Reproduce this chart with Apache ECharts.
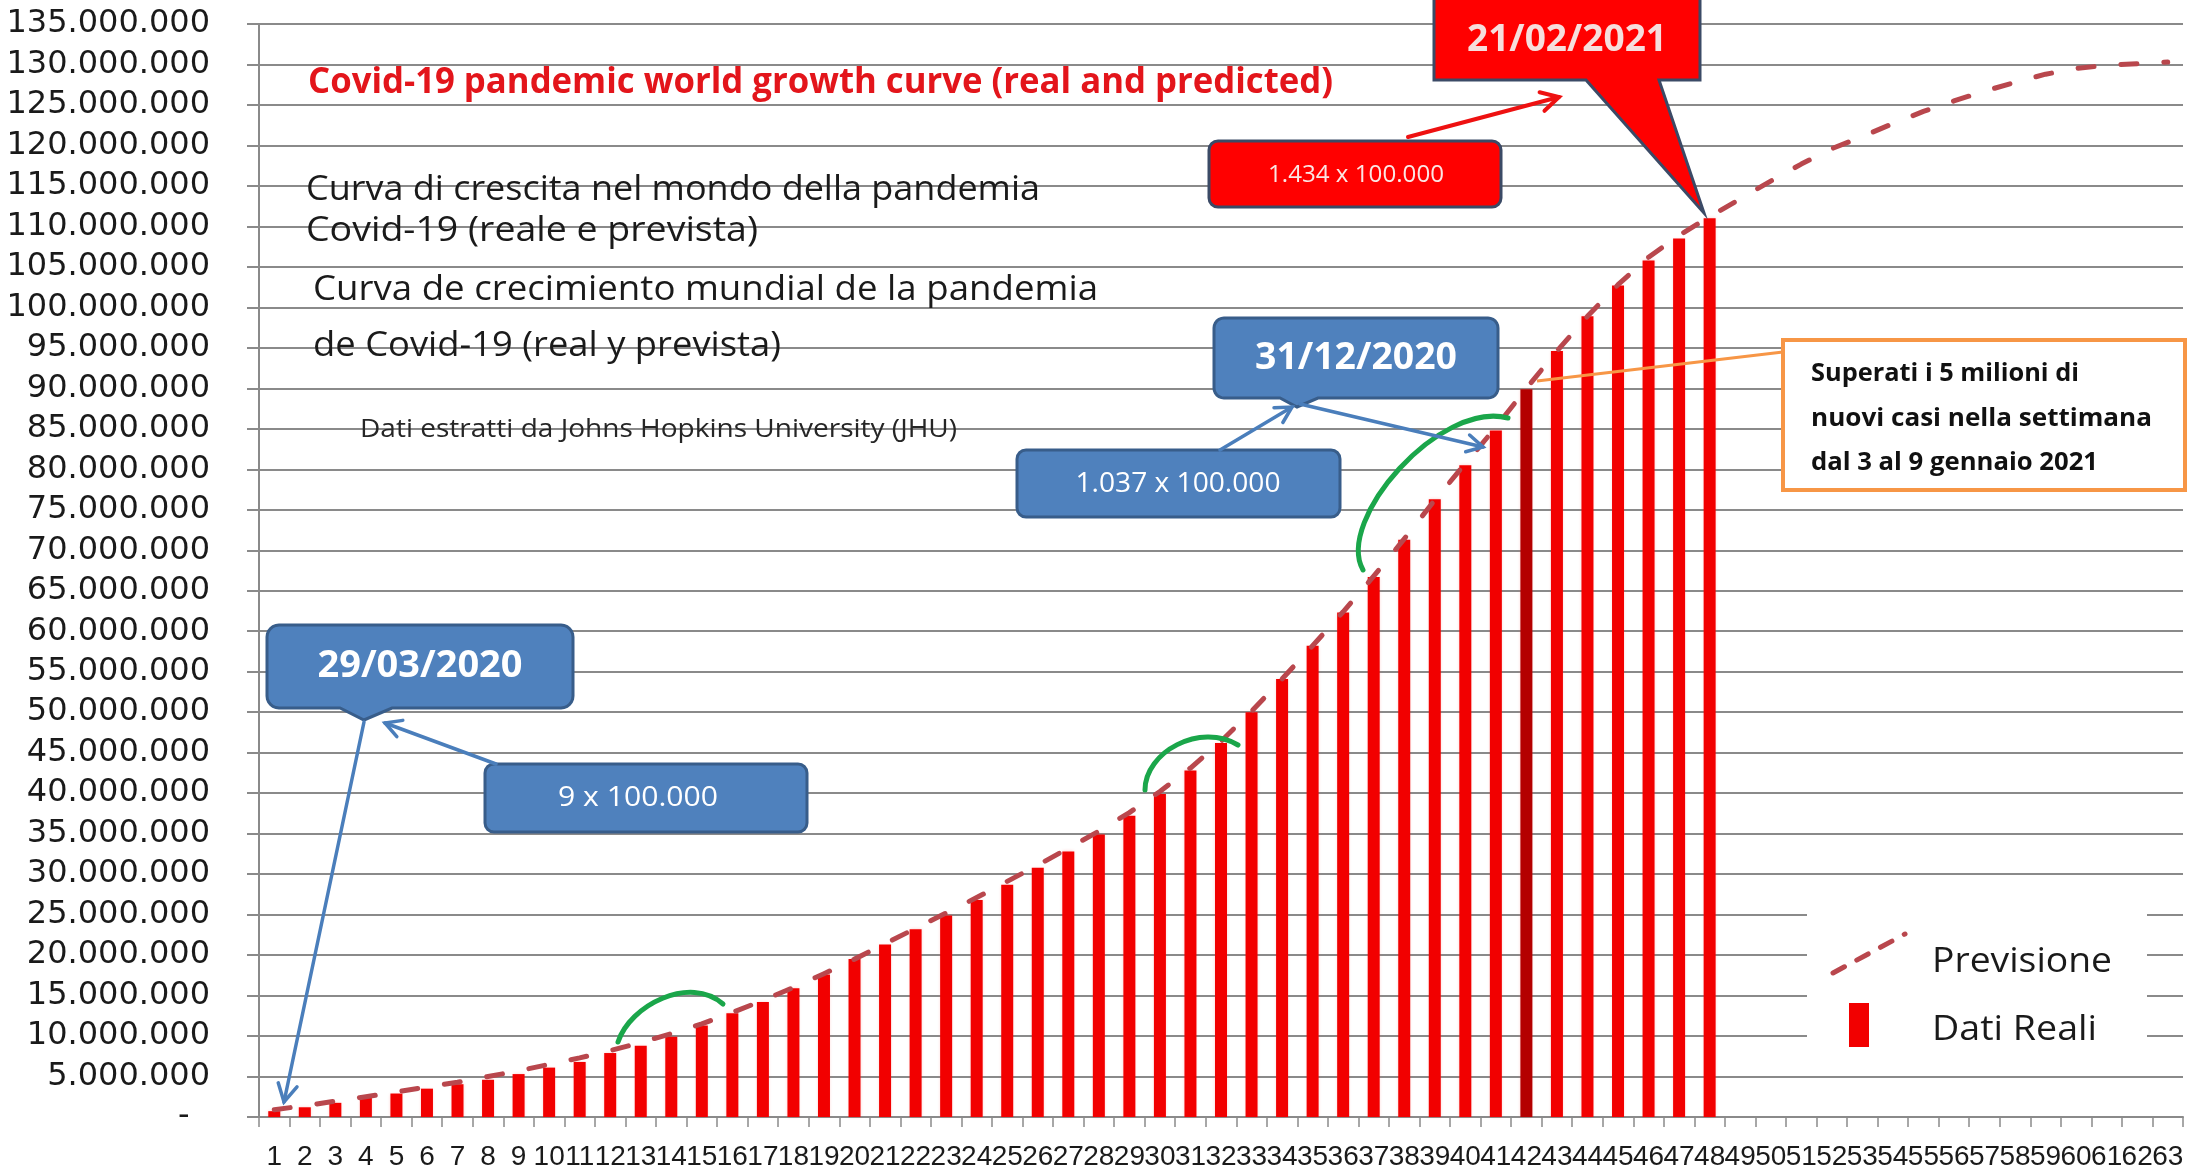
<!DOCTYPE html>
<html>
<head>
<meta charset="utf-8">
<script src="https://cdn.jsdelivr.net/npm/echarts@6/dist/echarts.min.js"></script>
<style>
  html, body { margin: 0; padding: 0; background: #ffffff; }
  #chart { width: 2190px; height: 1172px; }
</style>
</head>
<body>
<div id="chart"></div>
<script>
// Week numbers (week 1 = 29/03/2020, week 48 = 21/02/2021)
const weeks = ['1','2','3','4','5','6','7','8','9','10','11','12','13','14','15','16','17','18','19','20',
  '21','22','23','24','25','26','27','28','29','30','31','32','33','34','35','36','37','38','39','40',
  '41','42','43','44','45','46','47','48','49','50','51','52','53','54','55','56','57','58','59','60',
  '61','62','63'];

// Cumulative confirmed cases, millions (Dati Reali)
const realCases = [0.72, 1.2, 1.75, 2.4, 2.9, 3.5, 4.05, 4.6, 5.3, 6.1,
  6.8, 7.9, 8.8, 9.9, 11.3, 12.8, 14.2, 15.9, 17.6, 19.5,
  21.3, 23.2, 24.9, 26.8, 28.7, 30.8, 32.8, 34.9, 37.2, 39.9,
  42.8, 46.2, 50.0, 54.1, 58.2, 62.3, 66.7, 71.3, 76.3, 80.5,
  84.8, 89.9, 94.6, 98.9, 102.7, 105.8, 108.5, 111.0];

// Growth curve, millions (Previsione)
const forecast = [0.9, 1.4, 1.95, 2.5, 3.1, 3.7, 4.3, 5.0, 5.7, 6.5,
  7.3, 8.2, 9.2, 10.3, 11.5, 12.9, 14.4, 16.0, 17.7, 19.5,
  21.4, 23.3, 25.2, 27.1, 29.1, 31.1, 33.2, 35.3, 37.6, 40.2,
  43.1, 46.4, 50.1, 54.1, 58.2, 62.4, 66.8, 71.4, 76.2, 80.7,
  85.2, 90.0, 94.6, 98.9, 102.8, 106.2, 108.9, 111.2, 113.4, 115.6,
  117.7, 119.6, 121.1, 122.7, 124.2, 125.5, 126.7, 127.8, 128.8, 129.5,
  129.9, 130.1, 130.3];

// Value axis: 0 .. 135.000.000 every 5.000.000
const yMin = 0;
const yMax = 135000000;
const yStep = 5000000;

const MILLION = 1000000;
const highlightWeek = '42';

const GRID_GRAY = '#8a8a8a';
const BAR_RED = '#f20000';
const BAR_DARK = '#b40000';
const CURVE = '#b9474d';
const BLUE = '#4f81bd';
const BLUE_EDGE = '#385d8a';
const ARROW_BLUE = '#4a7ebb';
const HUMANIST = '"Open Sans", "Noto Sans", sans-serif';

function dotted(v) {
  if (v === 0) return '-  ';
  return String(v).replace(/\B(?=(\d{3})+(?!\d))/g, '.');
}

const measureCtx = document.createElement('canvas').getContext('2d');
function fitText(str, x, y, font, width, color, align) {
  measureCtx.font = font;
  const w = measureCtx.measureText(str).width;
  const sx = width ? width / w : 1;
  return {
    type: 'text', x: x, y: y, scaleX: sx, z: 20,
    style: {
      text: str, font: font, fill: color,
      align: align || 'left', textAlign: align || 'left',
      verticalAlign: 'middle', textVerticalAlign: 'middle'
    }
  };
}

// Outline of a rounded box with a pointer on its bottom edge
function calloutPoints(x0, y0, x1, y1, r, bx1, bx2, tx, ty) {
  const pts = [];
  function corner(cx, cy, a0) {
    if (r <= 0) { pts.push([cx, cy]); return; }
    const ox = cx + (a0 === 90 || a0 === 180 ? r : -r);
    const oy = cy + (a0 === 180 || a0 === 270 ? r : -r);
    for (let k = 0; k <= 6; k++) {
      const a = (a0 + k * 15) * Math.PI / 180;
      pts.push([ox + r * Math.cos(a), oy + r * Math.sin(a)]);
    }
  }
  corner(x0, y0, 180);
  corner(x1, y0, 270);
  corner(x1, y1, 0);
  pts.push([bx2, y1], [tx, ty], [bx1, y1]);
  corner(x0, y1, 90);
  return pts;
}

function arrow(x1, y1, x2, y2, color, w, head) {
  const a = Math.atan2(y2 - y1, x2 - x1);
  const spread = 0.5;
  const p1 = [x2 - head * Math.cos(a - spread), y2 - head * Math.sin(a - spread)];
  const p2 = [x2 - head * Math.cos(a + spread), y2 - head * Math.sin(a + spread)];
  return [
    { type: 'line', z: 18, shape: { x1: x1, y1: y1, x2: x2, y2: y2 },
      style: { stroke: color, lineWidth: w, lineCap: 'round' } },
    { type: 'polyline', z: 18, shape: { points: [p1, [x2, y2], p2] },
      style: { stroke: color, lineWidth: w, fill: null, lineJoin: 'miter', lineCap: 'round' } }
  ];
}

function greenArc(x1, y1, c1x, c1y, c2x, c2y, x2, y2) {
  return { type: 'bezierCurve', z: 17,
    shape: { x1: x1, y1: y1, cpx1: c1x, cpy1: c1y, cpx2: c2x, cpy2: c2y, x2: x2, y2: y2 },
    style: { stroke: '#1aa64a', lineWidth: 5, fill: null, lineCap: 'round' } };
}

const graphics = [];

// Headline and multilingual subtitles
graphics.push(fitText('Covid-19 pandemic world growth curve (real and predicted)', 308, 83,
  'bold 36px ' + HUMANIST, 1025, '#e3151b'));
graphics.push(fitText('Curva di crescita nel mondo della pandemia', 306, 190,
  '35px ' + HUMANIST, 734, '#1a1a1a'));
graphics.push(fitText('Covid-19 (reale e prevista)', 306, 231,
  '35px ' + HUMANIST, 452, '#1a1a1a'));
graphics.push(fitText('Curva de crecimiento mundial de la pandemia', 313, 290,
  '35px ' + HUMANIST, 785, '#1a1a1a'));
graphics.push(fitText('de Covid-19 (real y prevista)', 313, 346,
  '35px ' + HUMANIST, 468, '#1a1a1a'));
graphics.push(fitText('Dati estratti da Johns Hopkins University (JHU)', 360, 430,
  '25px ' + HUMANIST, 597, '#262626'));

// 21/02/2021 callout (red)
graphics.push({ type: 'polygon', z: 15,
  shape: { points: calloutPoints(1434, -6, 1700, 80, 0, 1586, 1659, 1704, 213) },
  style: { fill: '#ff0000', stroke: '#3b4a66', lineWidth: 3 } });
graphics.push(fitText('21/02/2021', 1567, 40, 'bold 38px ' + HUMANIST, 200, '#f6dedd', 'center'));

graphics.push({ type: 'rect', z: 15, shape: { x: 1209, y: 141, width: 292, height: 66, r: 9 },
  style: { fill: '#ff0000', stroke: '#3b4a66', lineWidth: 3 } });
graphics.push(fitText('1.434 x 100.000', 1356, 175, '23px ' + HUMANIST, 176, '#fbe6e4', 'center'));
graphics.push.apply(graphics, arrow(1408, 137, 1559, 97, '#ee1111', 4, 20));

// 31/12/2020 callout (blue)
graphics.push({ type: 'polygon', z: 15,
  shape: { points: calloutPoints(1214, 318, 1498, 398, 10, 1280, 1318, 1297, 407) },
  style: { fill: BLUE, stroke: BLUE_EDGE, lineWidth: 3 } });
graphics.push(fitText('31/12/2020', 1356, 358, 'bold 38px ' + HUMANIST, 202, '#ffffff', 'center'));
graphics.push({ type: 'rect', z: 15, shape: { x: 1017, y: 450, width: 323, height: 67, r: 9 },
  style: { fill: BLUE, stroke: BLUE_EDGE, lineWidth: 3 } });
graphics.push(fitText('1.037 x 100.000', 1178, 484, '27px ' + HUMANIST, 205, '#ffffff', 'center'));
graphics.push.apply(graphics, arrow(1220, 450, 1292, 407, ARROW_BLUE, 3.5, 18));
graphics.push.apply(graphics, arrow(1300, 404, 1483, 447, ARROW_BLUE, 3.5, 18));

// 29/03/2020 callout (blue)
graphics.push({ type: 'polygon', z: 15,
  shape: { points: calloutPoints(267, 625, 573, 708, 12, 340, 392, 364, 720) },
  style: { fill: BLUE, stroke: BLUE_EDGE, lineWidth: 3 } });
graphics.push(fitText('29/03/2020', 420, 666, 'bold 38px ' + HUMANIST, 205, '#ffffff', 'center'));
graphics.push({ type: 'rect', z: 15, shape: { x: 485, y: 764, width: 322, height: 68, r: 9 },
  style: { fill: BLUE, stroke: BLUE_EDGE, lineWidth: 3 } });
graphics.push(fitText('9 x 100.000', 638, 798, '27px ' + HUMANIST, 160, '#ffffff', 'center'));
graphics.push.apply(graphics, arrow(496, 764, 385, 723, ARROW_BLUE, 3.5, 18));
graphics.push.apply(graphics, arrow(364, 722, 284, 1102, ARROW_BLUE, 3.5, 20));

// Weekly-record note (orange frame)
graphics.push({ type: 'line', z: 14, shape: { x1: 1783, y1: 352, x2: 1537, y2: 381 },
  style: { stroke: '#f79646', lineWidth: 3 } });
graphics.push({ type: 'rect', z: 15, shape: { x: 1783, y: 340, width: 402, height: 150 },
  style: { fill: '#ffffff', stroke: '#f79646', lineWidth: 4 } });
graphics.push(fitText('Superati i 5 milioni di', 1811, 374, 'bold 25px ' + HUMANIST, 268, '#111111'));
graphics.push(fitText('nuovi casi nella settimana', 1811, 419, 'bold 25px ' + HUMANIST, 341, '#111111'));
graphics.push(fitText('dal 3 al 9 gennaio 2021', 1811, 463, 'bold 25px ' + HUMANIST, 287, '#111111'));

// Green highlight arcs
graphics.push(greenArc(618, 1042, 630, 1005, 690, 975, 723, 1004));
graphics.push(greenArc(1145, 790, 1145, 752, 1200, 722, 1238, 745));
graphics.push(greenArc(1363, 570, 1335, 520, 1440, 400, 1508, 418));

// Legend
graphics.push({ type: 'rect', z: 15, shape: { x: 1807, y: 913, width: 340, height: 140 },
  style: { fill: '#ffffff' } });
graphics.push({ type: 'line', z: 16, shape: { x1: 1833, y1: 973, x2: 1905, y2: 934 },
  style: { stroke: CURVE, lineWidth: 5, lineDash: [13, 14], lineCap: 'round' } });
graphics.push({ type: 'rect', z: 16, shape: { x: 1849, y: 1003, width: 20, height: 44 },
  style: { fill: BAR_RED } });
graphics.push(fitText('Previsione', 1932, 962, '34px ' + HUMANIST, 180, '#1a1a1a'));
graphics.push(fitText('Dati Reali', 1932, 1030, '34px ' + HUMANIST, 165, '#1a1a1a'));

const barData = realCases.map(function (v, i) {
  if (weeks[i] === highlightWeek) {
    return { value: v * MILLION, itemStyle: { color: BAR_DARK } };
  }
  return v * MILLION;
});
const curveData = forecast.map(function (v) { return v * MILLION; });

const chart = echarts.init(document.getElementById('chart'), null, { renderer: 'canvas' });
chart.setOption({
  animation: false,
  backgroundColor: '#ffffff',
  grid: { left: 259, right: 7, top: 24, bottom: 55, containLabel: false },
  xAxis: {
    type: 'category',
    data: weeks,
    boundaryGap: true,
    axisLine: { show: true, lineStyle: { color: GRID_GRAY, width: 2 } },
    axisTick: { show: true, alignWithLabel: false, interval: 0, length: 10,
      lineStyle: { color: GRID_GRAY, width: 1.5 } },
    axisLabel: { interval: 0, margin: 26, fontFamily: '"Liberation Sans Narrow", "Liberation Sans", sans-serif',
      fontSize: 28, color: '#1a1a1a' },
    splitLine: { show: false }
  },
  yAxis: {
    type: 'value',
    min: yMin, max: yMax, interval: yStep,
    axisLine: { show: true, lineStyle: { color: GRID_GRAY, width: 2 } },
    axisTick: { show: true, length: 12, lineStyle: { color: GRID_GRAY, width: 2 } },
    axisLabel: { margin: 49, fontFamily: '"DejaVu Sans", sans-serif', fontSize: 32, color: '#1a1a1a',
      formatter: dotted },
    splitLine: { show: true, lineStyle: { color: GRID_GRAY, width: 2 } }
  },
  series: [
    {
      name: 'Dati Reali',
      type: 'bar',
      data: barData,
      barWidth: 12,
      z: 2,
      itemStyle: { color: BAR_RED, shadowBlur: 3, shadowColor: 'rgba(255,90,90,0.3)' }
    },
    {
      name: 'Previsione',
      type: 'line',
      data: curveData,
      symbol: 'none',
      z: 3,
      lineStyle: { color: CURVE, width: 5, type: [16, 27], cap: 'round', join: 'round' }
    }
  ],
  graphic: { elements: graphics }
});
</script>
</body>
</html>
